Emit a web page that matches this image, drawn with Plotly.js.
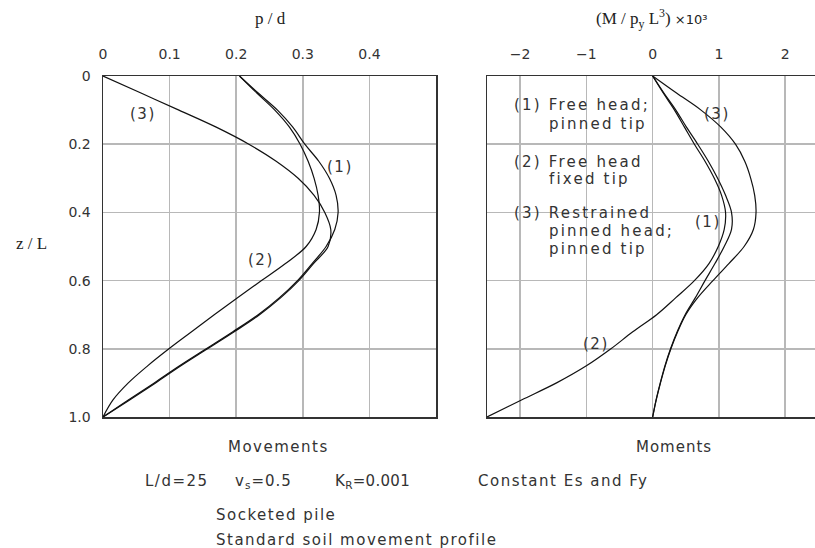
<!DOCTYPE html>
<html>
<head>
<meta charset="utf-8">
<script src="https://cdn.plot.ly/plotly-3.0.1.min.js"></script>
<style>
html,body{margin:0;padding:0;background:#fff;}
#chart{width:815px;height:548px;}
</style>
</head>
<body>
<div id="chart"></div>
<script>
// ---- data ----
const zDepth = [0,0.05,0.1,0.15,0.2,0.25,0.3,0.35,0.4,0.45,0.5,0.55,0.6,0.65,0.7,0.75,0.8,0.85,0.9,0.95,1.0];

// Movements p/d
const pd1 = [0.205,0.233,0.262,0.285,0.303,0.324,0.340,0.350,0.353,0.348,0.335,0.314,0.292,0.265,0.233,0.195,0.155,0.115,0.077,0.038,0];
const pd2 = [0.205,0.231,0.258,0.280,0.296,0.308,0.317,0.323,0.325,0.320,0.305,0.274,0.238,0.202,0.167,0.133,0.099,0.067,0.038,0.015,0];
const pd3 = [0,0.057,0.114,0.170,0.219,0.260,0.293,0.317,0.333,0.342,0.338,0.316,0.294,0.267,0.235,0.197,0.157,0.117,0.079,0.040,0];

// Moments (M / py L^3) x 10^3
const mo1 = [0,0.17,0.35,0.51,0.68,0.84,0.98,1.10,1.19,1.19,1.08,0.94,0.79,0.645,0.49,0.37,0.27,0.185,0.115,0.052,0];
const mo2 = [0,0.16,0.33,0.48,0.63,0.79,0.93,1.04,1.10,1.08,0.99,0.85,0.63,0.35,0.06,-0.30,-0.63,-1.00,-1.45,-1.98,-2.50];
const mo3 = [0,0.36,0.73,1.03,1.25,1.39,1.48,1.54,1.56,1.52,1.38,1.15,0.91,0.68,0.50,0.377,0.275,0.19,0.118,0.054,0];

const pdTicks = [0,0.1,0.2,0.3,0.4];
const pdTickText = ['0','0.1','0.2','0.3','0.4'];
const moTicks = [-2,-1,0,1,2];
const moTickText = ['\u22122','\u22121','0','1','2'];
const zTicks = [0,0.2,0.4,0.6,0.8,1.0];
const zTickText = ['0','0.2','0.4','0.6','0.8','1.0'];

// ---- styling ----
const lineStyle = {color:'#111', width:1.2, shape:'spline', smoothing:1};
const gridC = '#b8b8b8';
const frameC = '#333';
const txtFont = {family:'DejaVu Sans', size:15, color:'#333'};
const serif = {family:'Liberation Serif, Times New Roman, serif', size:17, color:'#222'};

function ls(t, s){ return '<span style="letter-spacing:'+(s===undefined?1.5:s)+'px">'+t+'</span>'; }
// pixel -> paper helpers (layout positions only)
const L=103, W=712, T=76, H=341;
function px(x){ return (x-L)/W; }
function py(y){ return (T+H-y)/H; }

const traces = [
  {x:pd1, y:zDepth, xaxis:'x', yaxis:'y', mode:'lines', line:lineStyle, hoverinfo:'skip'},
  {x:pd2, y:zDepth, xaxis:'x', yaxis:'y', mode:'lines', line:lineStyle, hoverinfo:'skip'},
  {x:pd3, y:zDepth, xaxis:'x', yaxis:'y', mode:'lines', line:lineStyle, hoverinfo:'skip'},
  {x:mo1, y:zDepth, xaxis:'x2', yaxis:'y2', mode:'lines', line:lineStyle, hoverinfo:'skip'},
  {x:mo2, y:zDepth, xaxis:'x2', yaxis:'y2', mode:'lines', line:lineStyle, hoverinfo:'skip'},
  {x:mo3, y:zDepth, xaxis:'x2', yaxis:'y2', mode:'lines', line:lineStyle, hoverinfo:'skip'}
];

function ann(text, x, y, xanchor, font, extra){
  return Object.assign({text:text, x:px(x), y:py(y), xref:'paper', yref:'paper',
    xanchor:xanchor, yanchor:'middle', showarrow:false, align:'left', font:font||txtFont}, extra||{});
}
function dann(text, x, y, xr, yr){
  return {text:ls(text), x:x, y:y, xref:xr, yref:yr, xanchor:'center', yanchor:'middle',
    showarrow:false, font:txtFont};
}

const annotations = [
  ann('p / d', 270, 19, 'center', serif),
  ann('(M / p<sub>y</sub> L<sup>3</sup>)<span style="font-family:DejaVu Sans;font-size:13px"> \u00d710\u00b3</span>', 652, 19, 'center', serif),
  ann('z / L', 31, 243, 'center', serif),
  // curve labels
  dann('(3)', 0.06, 0.11, 'x', 'y'),
  dann('(1)', 0.356, 0.268, 'x', 'y'),
  dann('(2)', 0.237, 0.54, 'x', 'y'),
  dann('(3)', 0.97, 0.11, 'x2', 'y2'),
  dann('(1)', 0.83, 0.427, 'x2', 'y2'),
  dann('(2)', -0.85, 0.785, 'x2', 'y2'),
  // legend text
  ann(ls('(1) Free head;', 2.2), 512, 105, 'left'),
  ann(ls('pinned tip', 2.2), 547, 124, 'left'),
  ann(ls('(2) Free head', 2.2), 512, 162, 'left'),
  ann(ls('fixed tip', 2.2), 547, 179, 'left'),
  ann(ls('(3) Restrained', 2.2), 512, 213, 'left'),
  ann(ls('pinned head;', 2.2), 547, 231, 'left'),
  ann(ls('pinned tip', 2.2), 547, 249, 'left'),
  // bottom text
  ann(ls('Movements'), 278, 447, 'center'),
  ann(ls('Moments', 1), 674, 447, 'center'),
  ann(ls('L/d=25'), 143, 481, 'left'),
  ann(ls('v<sub>s</sub>=0.5', 1), 233, 481, 'left'),
  ann(ls('K<sub>R</sub>=0.001', 0.3), 333, 481, 'left'),
  ann(ls('Constant Es and Fy'), 476, 481, 'left'),
  ann(ls('Socketed pile'), 214, 515, 'left'),
  ann(ls('Standard soil movement profile'), 214, 540, 'left')
];

const tickFont = {family:'DejaVu Sans', size:14, color:'#333'};
const layout = {
  width:815, height:548,
  margin:{l:L, r:0, t:T, b:548-T-H, pad:0},
  paper_bgcolor:'#fff', plot_bgcolor:'#fff',
  showlegend:false,
  font:txtFont,
  xaxis:{domain:[0,333/W], range:[0,0.5], side:'top', anchor:'y',
    tickvals:pdTicks, ticktext:pdTickText, tickfont:tickFont, ticks:'', ticklabelstandoff:10,
    showgrid:true, gridcolor:gridC, gridwidth:1.5, zeroline:false,
    showline:true, mirror:true, linecolor:frameC, linewidth:1.5, fixedrange:true},
  yaxis:{domain:[0,1], range:[1,0], anchor:'x',
    tickvals:zTicks, ticktext:zTickText, tickfont:tickFont, ticks:'', ticklabelstandoff:8,
    showgrid:true, gridcolor:gridC, gridwidth:1.5, zeroline:false,
    showline:true, mirror:true, linecolor:frameC, linewidth:1.5, fixedrange:true},
  xaxis2:{domain:[384/W,1], range:[-2.5,2.45], side:'top', anchor:'y2',
    tickvals:moTicks, ticktext:moTickText, tickfont:tickFont, ticks:'', ticklabelstandoff:10,
    showgrid:true, gridcolor:gridC, gridwidth:1.5, zeroline:false,
    showline:true, mirror:true, linecolor:frameC, linewidth:1.5, fixedrange:true},
  yaxis2:{domain:[0,1], range:[1,0], anchor:'x2',
    tickvals:zTicks, showticklabels:false, ticks:'',
    showgrid:true, gridcolor:gridC, gridwidth:1.5, zeroline:false,
    showline:true, mirror:false, linecolor:frameC, linewidth:1.5, fixedrange:true},
  annotations:annotations
};

Plotly.newPlot('chart', traces, layout, {staticPlot:true, displayModeBar:false});
</script>
</body>
</html>
